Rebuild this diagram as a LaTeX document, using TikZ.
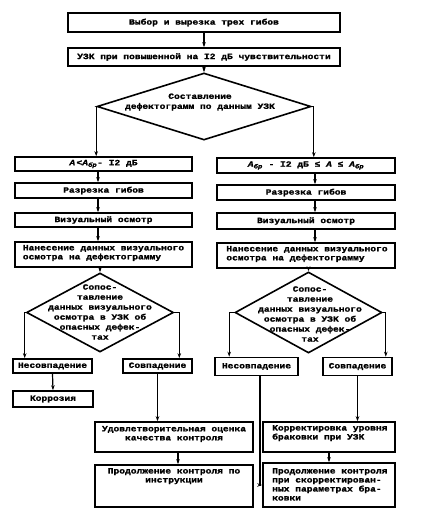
\documentclass[tikz,border=0pt]{standalone}
\usepackage{fontspec}
\newfontfamily\gost[FakeStretch=1.2, BoldFeatures={FakeBold=1.5}, BoldItalicFeatures={FakeBold=1.5}]{Liberation Mono}
\newcommand\gostf{\gost\bfseries\fontsize{8}{9}\selectfont}
\newcommand\gostd{\gost\bfseries\fontsize{8}{10}\selectfont}
\usetikzlibrary{shapes.geometric,arrows.meta}
\begin{document}
\begin{tikzpicture}[x=1pt,y=-1pt,
  box/.style={draw, line width=1.6pt, inner sep=0pt, font=\gostf, align=center},
  dia/.style={draw, diamond, line width=1.6pt, inner sep=0pt},
  txt/.style={inner sep=0pt, font=\gostd, align=center},
  ltxt/.style={inner sep=0pt, font=\gostf, align=left},
  arr/.style={line width=1.2pt, -{Stealth[length=5pt,width=3.5pt]}}]
\useasboundingbox (0,0) rectangle (423,523);
\fill[white] (0,0) rectangle (423,523);
% top
\node[box, minimum width=272pt, minimum height=19pt] (b1) at (204,22.5) {Выбор и вырезка трех гибов};
\node[box, minimum width=272pt, minimum height=18pt] (b2) at (204,57) {УЗК при повышенной на I2 дБ чувствительности};
\node[dia, minimum width=214pt, minimum height=67pt] (d1) at (204,106.5) {};
\node[txt] (d1t) at (200,102) {Составление\\дефектограмм по данным УЗК};
% left column
\node[box, minimum width=177pt, minimum height=14pt] (L1) at (103.5,164) {{\itshape A}\,<{\itshape A}\textsubscript{\itshape бр}- I2 дБ};
\node[box, minimum width=177pt, minimum height=15pt] (L2) at (103.5,190.5) {Разрезка гибов};
\node[box, minimum width=177pt, minimum height=14pt] (L3) at (103.5,220) {Визуальный осмотр};
\node[box, minimum width=177pt, minimum height=25pt] (L4) at (103.5,254.5) {};
\node[ltxt] (L4t) at (103.5,253) {Нанесение данных визуального\\осмотра на дефектограмму};
% right column
\node[box, minimum width=178pt, minimum height=15pt] (R1) at (306,165.5) {{\itshape A}\textsubscript{\itshape бр} - I2 дБ ≤ {\itshape A} ≤ {\itshape A}\textsubscript{\itshape бр}};
\node[box, minimum width=178pt, minimum height=15pt] (R2) at (306,192.5) {Разрезка гибов};
\node[box, minimum width=178pt, minimum height=16pt] (R3) at (306,221) {Визуальный осмотр};
\node[box, minimum width=178pt, minimum height=25pt] (R4) at (306,255.5) {};
\node[ltxt] (R4t) at (307,254) {Нанесение данных визуального\\осмотра на дефектограмму};
% diamonds level 2
\node[dia, minimum width=147pt, minimum height=79pt] (d2) at (100,312.5) {};
\node[txt] (d2t) at (100,312) {Сопос-\\тавление\\данных визуального\\осмотра в УЗК об\\опасных дефек-\\тах};
\node[dia, minimum width=147pt, minimum height=81pt] (d3) at (308.5,312.5) {};
\node[txt] (d3t) at (310,314) {Сопос-\\тавление\\данных визуального\\осмотра в УЗК об\\опасных дефек-\\тах};
% outcome boxes
\node[box, minimum width=79pt, minimum height=14pt] (LN) at (52.5,366) {Несовпадение};
\node[box, minimum width=69pt, minimum height=14pt] (LS) at (157.5,366) {Совпадение};
\node[box, minimum width=80pt, minimum height=16pt] (LK) at (53,399) {Коррозия};
\node[box, minimum width=83pt, minimum height=18pt] (RN) at (256.5,366.5) {Несовпадение};
\node[box, minimum width=69pt, minimum height=18pt] (RS) at (357.5,366.5) {Совпадение};
% bottom boxes
\node[box, minimum width=158pt, minimum height=30pt] (LU) at (174,437) {};
\node[txt, font=\gostf] (LUt) at (174,434) {Удовлетворительная оценка\\качества контроля};
\node[box, minimum width=158pt, minimum height=42pt] (LP) at (174,486) {};
\node[txt, font=\gostf, anchor=north] (LPt) at (174,468) {Продолжение контроля по\\инструкции};
\node[box, minimum width=132pt, minimum height=30pt] (RK) at (329,437) {};
\node[ltxt, anchor=north west] (RKt) at (272,425) {Корректировка уровня\\браковки при УЗК};
\node[box, minimum width=132pt, minimum height=44pt] (RP) at (329,485) {};
\node[ltxt, anchor=north west] (RPt) at (272,468) {Продолжение контроля\\при скорректирован-\\ных параметрах бра-\\ковки};
% helper coordinates
\coordinate (Lx) at (98,0);
\coordinate (Rx) at (315,0);
\coordinate (Nx) at (260,0);
% connectors
\draw[arr] (b1.south) -- (b2.north);
\draw[arr] (b2.south) -- (d1.north);
\draw[arr] (d1.west) -- (d1.west |- L1.north);
\draw[arr] (d1.east) -| ([xshift=2pt]d1.east |- R1.north);
\draw[arr] (L1.south -| Lx) -- (L2.north -| Lx);
\draw[arr] (L2.south -| Lx) -- (L3.north -| Lx);
\draw[arr] (L3.south -| Lx) -- (L4.north -| Lx);
\draw[arr] (L4.south -| d2.north) -- (d2.north);
\draw[arr] (R1.south -| Rx) -- (R2.north -| Rx);
\draw[arr] (R2.south -| Rx) -- (R3.north -| Rx);
\draw[arr] (R3.south -| Rx) -- (R4.north -| Rx);
\draw[arr] (R4.south -| d3.north) -- (d3.north);
\draw[arr] (d2.west) -| ([xshift=-1pt]d2.west |- LN.north);
\draw[arr] (d2.east) -| ([xshift=5pt]d2.east |- LS.north);
\draw[arr] (d3.west) -| ([xshift=-5pt]d3.west |- RN.north);
\draw[arr] (d3.east) -| ([xshift=3pt]d3.east |- RS.north);
\draw[arr] (LN.south) -- (LK.north);
\draw[arr] (LS.south) -- (LS.south |- LU.north);
\draw[arr] (LU.south -| 178,0) -- (LP.north -| 178,0);
\draw[arr] (RS.south) -- (RS.south |- RK.north);
\draw[arr] (RK.south) -- (RP.north);
\draw[arr] (RN.south -| Nx) |- (RP.west);
\end{tikzpicture}
\end{document}
